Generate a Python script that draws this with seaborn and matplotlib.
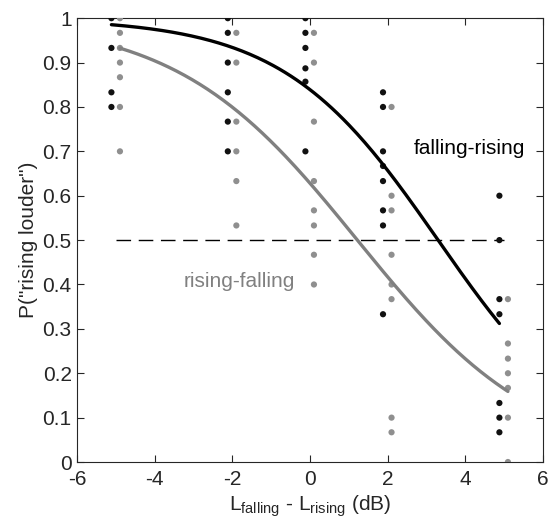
import numpy as np
import pandas as pd
import matplotlib
matplotlib.use("Agg")
import matplotlib.pyplot as plt
import seaborn as sns

# ---- data ----
levels = [-5, -2, 0, 2, 5]
black_offset = -0.12
gray_offset = 0.10

# falling-rising (black) individual proportions per level
fr_m5 = [1.0, 0.933, 0.833, 0.8]
fr_m2 = [1.0, 0.967, 0.9, 0.833, 0.767, 0.7]
fr_0 = [1.0, 0.967, 0.933, 0.887, 0.857, 0.7]
fr_2 = [0.833, 0.8, 0.7, 0.667, 0.633, 0.567, 0.533, 0.333]
fr_5 = [0.6, 0.5, 0.367, 0.333, 0.133, 0.1, 0.067]

# rising-falling (gray) individual proportions per level
rf_m5 = [1.0, 0.967, 0.933, 0.9, 0.867, 0.8, 0.7]
rf_m2 = [0.967, 0.9, 0.767, 0.7, 0.633, 0.533]
rf_0 = [0.967, 0.9, 0.767, 0.633, 0.567, 0.533, 0.467, 0.4]
rf_2 = [0.8, 0.6, 0.567, 0.467, 0.4, 0.367, 0.1, 0.067]
rf_5 = [0.367, 0.267, 0.233, 0.2, 0.167, 0.1, 0.0]

# fitted psychometric (logistic) parameters: midpoint, spread
fr_mid, fr_spread = 3.3, 2.0
rf_mid, rf_spread = 1.22, 2.33

x_ticks = [-6, -4, -2, 0, 2, 4, 6]
y_ticks = [0, 0.1, 0.2, 0.3, 0.4, 0.5, 0.6, 0.7, 0.8, 0.9, 1]
y_ticklabels = ["0", "0.1", "0.2", "0.3", "0.4", "0.5", "0.6", "0.7", "0.8", "0.9", "1"]

# ---- build tables ----
rows = []
for lvl, vals in zip(levels, [fr_m5, fr_m2, fr_0, fr_2, fr_5]):
    for v in vals:
        rows.append({"x": lvl + black_offset, "p": v, "cond": "falling-rising"})
for lvl, vals in zip(levels, [rf_m5, rf_m2, rf_0, rf_2, rf_5]):
    for v in vals:
        rows.append({"x": lvl + gray_offset, "p": v, "cond": "rising-falling"})
pts = pd.DataFrame(rows)

def logistic(x, mid, spread):
    return 1.0 / (1.0 + np.exp((x - mid) / spread))

xb = np.linspace(levels[0] + black_offset, levels[-1] + black_offset, 200)
xg = np.linspace(levels[0] + gray_offset, levels[-1] + gray_offset, 200)
curves = pd.concat([
    pd.DataFrame({"x": xb, "p": logistic(xb, fr_mid, fr_spread), "cond": "falling-rising"}),
    pd.DataFrame({"x": xg, "p": logistic(xg, rf_mid, rf_spread), "cond": "rising-falling"}),
])

# ---- style ----
sns.set_theme(style="ticks")
plt.rcParams["font.family"] = ["Liberation Sans", "DejaVu Sans"]
plt.rcParams["mathtext.fontset"] = "custom"
plt.rcParams["mathtext.rm"] = "Liberation Sans"
plt.rcParams["mathtext.it"] = "Liberation Sans"
axcol = "#262626"
fs = 15

fig = plt.figure(figsize=(5.5, 5.2), dpi=100)
ax = fig.add_axes([0.1405, 0.1115, 0.8465, 0.8535])

pt_colors = {"falling-rising": "#111111", "rising-falling": "#8f8f8f"}
ln_colors = {"falling-rising": "#000000", "rising-falling": "#808080"}

ax.plot([levels[0], levels[-1]], [0.5, 0.5], color="black", lw=1.0,
        linestyle=(0, (10.5, 5.5)), zorder=1)

sns.scatterplot(data=pts, x="x", y="p", hue="cond", palette=pt_colors,
                s=20, linewidth=0, legend=False, ax=ax, zorder=3)
sns.lineplot(data=curves, x="x", y="p", hue="cond", palette=ln_colors,
             linewidth=2.4, legend=False, ax=ax, zorder=4, sort=False)

ax.text(4.1, 0.707, "falling-rising", color="black", fontsize=fs,
        ha="center", va="center")
ax.text(-1.82, 0.406, "rising-falling", color="#808080", fontsize=fs,
        ha="center", va="center")

ax.set_xlim(-6, 6)
ax.set_ylim(0, 1)
ax.set_xticks(x_ticks)
ax.set_xticklabels([str(t) for t in x_ticks])
ax.set_yticks(y_ticks)
ax.set_yticklabels(y_ticklabels)
ax.tick_params(direction="in", length=5, width=0.8, colors=axcol,
               labelsize=fs, top=True, right=True)
ax.tick_params(axis="x", pad=6)
ax.tick_params(axis="y", pad=4)
for sp in ax.spines.values():
    sp.set_visible(True)
    sp.set_color(axcol)
    sp.set_linewidth(0.8)

ax.set_xlabel(r"L$_{\mathrm{falling}}$ - L$_{\mathrm{rising}}$ (dB)",
              fontsize=fs, color=axcol, labelpad=3)
ax.set_ylabel('P("rising louder")', fontsize=fs, color=axcol, labelpad=3)

fig.savefig("out.png", dpi=100)
